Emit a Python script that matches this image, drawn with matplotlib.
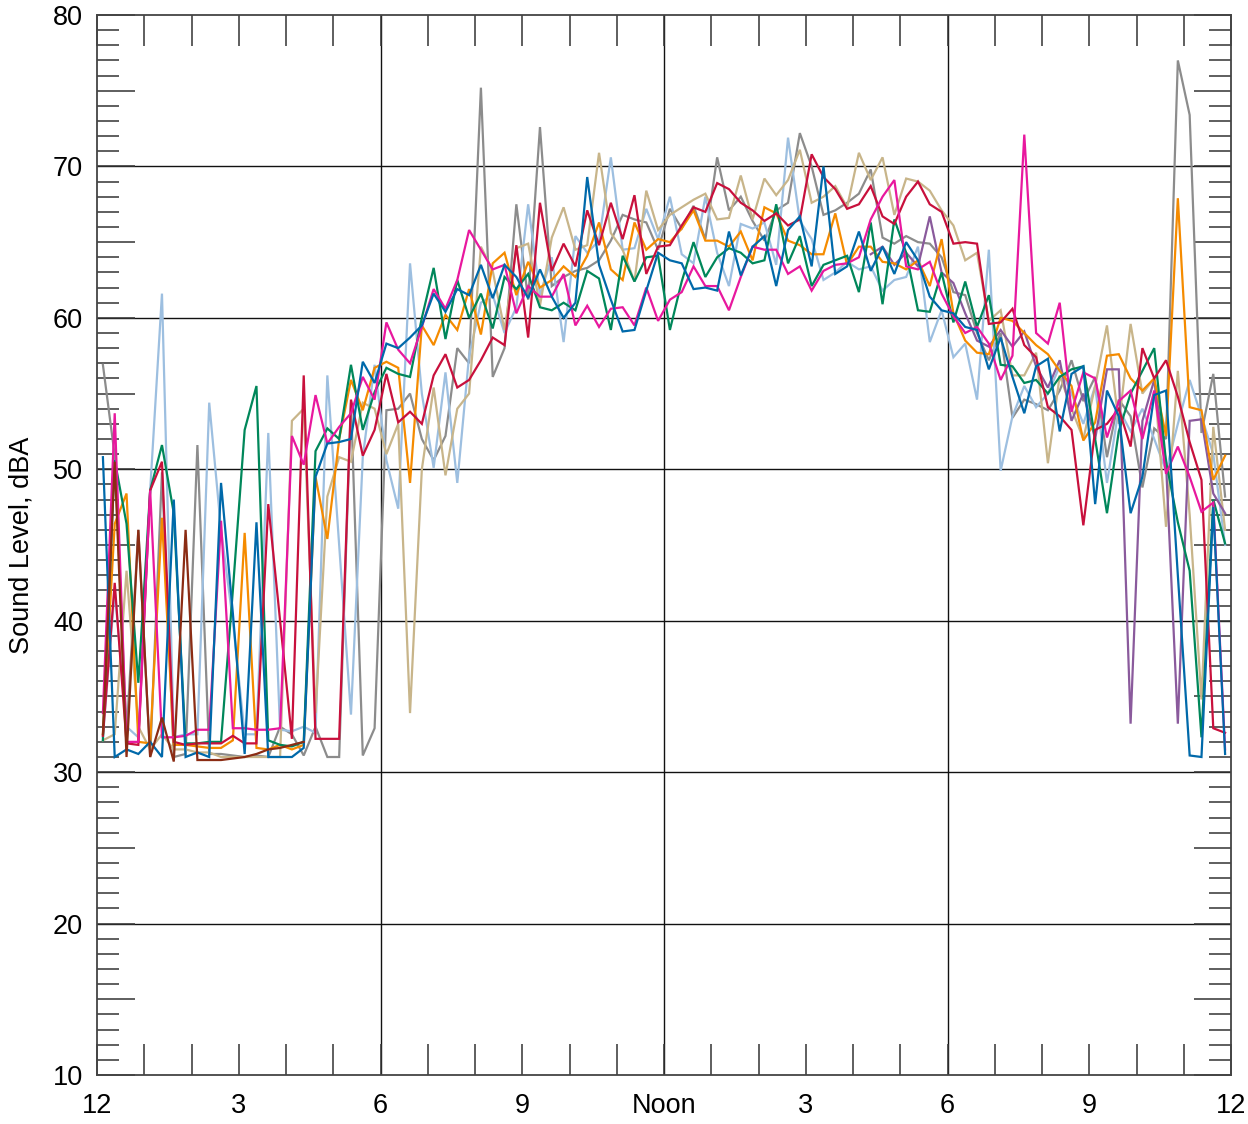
import numpy as np
import matplotlib
matplotlib.use("Agg")
import matplotlib.pyplot as plt
from matplotlib.ticker import FixedLocator, MultipleLocator, FuncFormatter

plt.rcParams['font.family'] = ['Liberation Sans', 'DejaVu Sans']

nan = np.nan
# 15-minute samples, centred at 0:07.5, 0:22.5, ... (96 per day)
hours = np.arange(96) * 0.25 + 0.125

blue = [50.8, 31.0, 31.5, 31.2, 32.0, 31.0, 48.0, 31.0, 31.3, 31.0, 49.1, 40.5,
        31.2, 46.5, 31.0, 31.0, 31.0, 31.6, 49.5, 51.7, 51.8, 52.0, 57.1, 55.7,
        58.3, 58.0, 58.7, 59.5, 61.6, 60.4, 61.9, 61.5, 63.5, 61.3, 63.5, 62.7,
        61.3, 63.2, 61.4, 60.0, 61.0, 69.3, 63.5, 61.2, 59.1, 59.2, 61.8, 64.3,
        63.8, 63.6, 61.9, 62.0, 61.8, 65.7, 62.8, 64.7, 65.4, 62.1, 65.8, 66.7,
        63.4, 70.0, 62.9, 63.4, 65.7, 63.1, 64.7, 62.9, 65.0, 63.8, 61.4, 60.5,
        60.3, 59.4, 59.2, 56.6, 58.7, 56.1, 53.7, 56.8, 57.3, 52.5, 56.3, 56.8,
        47.7, 55.2, 53.5, 47.1, 49.5, 54.9, 55.2, 43.0, 31.1, 31.0, 47.5, 31.2]

crimson = [32.4, 42.5, 31.9, 31.8, 48.6, 50.5, 32.0, 31.8, 31.9, 31.9, 31.9, 32.4,
           31.9, 31.9, 47.7, 40.0, 32.2, 56.2, 32.2, 32.2, 32.2, 54.6, 50.9, 52.6,
           56.3, 53.1, 53.8, 53.0, 56.2, 57.6, 55.4, 55.9, 57.2, 58.7, 58.2, 64.8,
           58.7, 67.6, 63.1, 64.9, 63.4, 67.1, 64.8, 67.6, 65.2, 68.1, 62.9, 64.7,
           64.8, 66.1, 67.3, 67.0, 68.9, 68.5, 67.6, 67.1, 66.4, 66.9, 66.1, 66.5,
           70.8, 69.3, 68.5, 67.2, 67.5, 68.7, 66.7, 66.2, 68.0, 69.0, 67.5, 67.0,
           64.9, 65.0, 64.9, 59.6, 59.7, 60.6, 58.2, 57.4, 54.1, 53.5, 52.6, 46.3,
           52.6, 53.0, 54.0, 51.5, 58.0, 56.0, 57.2, 54.8, 51.8, 49.3, 32.9, 32.6]

green = [32.1, 50.6, 46.4, 35.9, 48.6, 51.6, 47.1, 31.9, 31.9, 32.0, 32.0, 42.0,
         52.6, 55.5, 32.1, 31.8, 31.7, 32.0, 51.2, 52.7, 52.0, 56.9, 52.6, 55.1,
         56.7, 56.3, 56.1, 60.0, 63.3, 58.6, 62.5, 60.0, 61.6, 59.3, 62.7, 61.9,
         62.9, 60.7, 60.5, 61.0, 60.5, 63.1, 62.6, 59.2, 64.1, 62.4, 64.0, 64.1,
         59.2, 62.4, 65.0, 62.7, 64.0, 64.6, 64.3, 63.6, 63.8, 67.5, 63.6, 65.4,
         62.1, 63.5, 63.8, 64.1, 61.7, 66.3, 60.9, 66.5, 64.3, 60.5, 60.4, 63.0,
         59.7, 62.4, 59.4, 61.5, 56.9, 56.8, 55.7, 55.9, 55.0, 56.1, 56.6, 56.8,
         52.0, 47.1, 52.5, 55.0, 56.5, 58.0, 50.5, 46.5, 43.3, 32.3, 48.0, 45.1]

orange = [32.5, 46.4, 48.4, 32.0, 31.9, 46.8, 31.8, 31.8, 31.7, 31.6, 31.6, 32.1,
          45.8, 31.6, 31.5, 31.8, 31.5, 31.8, 49.5, 45.4, 52.0, 55.9, 53.9, 56.7,
          57.1, 56.7, 49.1, 59.5, 58.2, 60.2, 59.2, 61.9, 58.9, 63.6, 64.3, 61.5,
          63.7, 62.0, 62.5, 63.4, 62.7, 64.1, 66.3, 63.2, 62.5, 66.3, 64.5, 65.2,
          65.0, 65.9, 67.1, 65.1, 65.1, 64.7, 65.7, 63.8, 67.3, 66.9, 65.1, 64.8,
          64.2, 64.2, 66.9, 63.5, 64.7, 64.7, 63.7, 63.6, 63.2, 63.8, 62.1, 65.2,
          60.3, 58.5, 57.7, 57.6, 60.0, 59.8, 59.0, 58.2, 57.6, 56.5, 55.5, 51.9,
          53.1, 57.5, 57.6, 56.0, 55.2, 56.0, 52.2, 67.9, 54.1, 53.9, 49.3, 50.9]

gray = [56.9, 50.9, 32.5, 46.0, 31.0, 49.8, 31.0, 31.2, 51.6, 31.2, 31.2, 31.1,
        31.0, 31.1, 31.0, 33.0, 32.5, 31.1, 33.0, 31.0, 31.0, 54.4, 31.1, 32.9,
        53.9, 54.0, 55.0, 52.0, 50.6, 52.2, 58.0, 57.0, 75.2, 56.1, 58.0, 67.5,
        61.2, 72.6, 62.1, 62.7, 63.1, 63.3, 63.8, 65.1, 66.8, 66.5, 66.3, 64.5,
        67.2, 65.9, 67.4, 65.2, 70.6, 67.1, 68.0, 66.4, 65.1, 67.1, 67.6, 72.2,
        70.0, 66.8, 67.1, 67.6, 68.2, 69.8, 65.3, 64.9, 65.4, 65.0, 64.9, 64.0,
        61.7, 61.5, 59.0, 57.2, 59.0, 53.4, 54.6, 54.3, 53.9, 55.2, 57.2, 54.5,
        56.1, 50.8, 54.6, 53.5, 48.8, 52.7, 52.0, 77.0, 73.4, 52.4, 56.3, 48.2]

light_blue = [32.3, 42.0, 33.0, 32.3, 48.6, 61.6, 32.3, 32.5, 32.5, 54.4, 46.0, 40.0,
              32.5, 32.5, 52.4, 32.8, 32.7, 33.0, 32.6, 56.2, 45.0, 33.8, 50.8, 56.9,
              50.6, 47.4, 63.6, 55.0, 50.1, 56.4, 49.1, 57.5, 61.0, 61.5, 59.0, 60.7,
              67.5, 61.5, 64.0, 58.4, 65.4, 64.3, 65.1, 70.6, 64.5, 64.6, 67.2, 65.2,
              68.0, 64.2, 63.6, 68.0, 64.3, 62.1, 66.2, 65.9, 66.3, 63.5, 71.9, 66.4,
              65.2, 62.5, 63.0, 63.7, 63.2, 63.4, 61.8, 62.5, 62.7, 64.7, 58.4, 60.5,
              57.4, 58.3, 54.6, 64.5, 49.9, 53.5, 55.5, 54.1, 55.0, 56.8, 55.0, 53.0,
              55.5, 49.1, 54.0, 52.5, 54.0, 52.0, 49.9, 53.0, 55.9, 53.5, 51.0, 45.0]

tan = [32.1, 32.5, 43.3, 33.0, 31.5, 32.5, 31.5, 31.5, 31.3, 31.3, 31.0, 31.0,
       31.0, 31.0, 31.0, 31.0, 53.2, 54.0, 33.9, 48.2, 50.8, 50.5, 54.4, 54.0,
       51.0, 53.0, 33.9, 50.0, 55.4, 49.6, 54.0, 55.0, 64.7, 63.1, 59.2, 64.6,
       64.9, 60.8, 65.3, 67.3, 64.5, 64.8, 70.9, 65.6, 64.5, 62.4, 68.4, 65.8,
       66.8, 67.3, 67.8, 68.2, 66.5, 66.6, 69.4, 66.5, 69.2, 68.1, 69.1, 71.1,
       67.6, 68.0, 68.7, 67.3, 70.9, 69.1, 70.6, 66.8, 69.2, 69.0, 68.4, 67.1,
       66.1, 63.8, 64.3, 59.8, 60.5, 56.2, 56.2, 57.7, 50.4, 56.2, 54.0, 52.0,
       55.5, 59.5, 53.0, 59.6, 55.0, 56.0, 46.2, 56.5, 47.0, 34.8, 52.8, 46.0]

magenta = [33.9, 53.7, 32.0, 32.0, 48.6, 32.3, 32.3, 32.4, 32.8, 32.8, 46.6, 32.9,
           32.9, 32.8, 32.8, 32.9, 52.2, 50.3, 54.9, 51.7, 52.8, 53.7, 56.1, 54.6,
           59.7, 57.9, 57.0, 59.4, 61.9, 60.6, 62.5, 65.8, 64.5, 63.2, 63.5, 60.3,
           62.1, 61.4, 61.4, 62.9, 59.5, 60.8, 59.4, 60.6, 60.7, 59.5, 62.0, 59.8,
           61.2, 61.7, 63.4, 62.1, 62.1, 60.5, 62.7, 64.7, 64.5, 64.5, 62.9, 63.4,
           61.8, 63.1, 63.5, 63.6, 64.0, 66.5, 68.0, 69.1, 63.4, 63.2, 63.7, 61.6,
           60.1, 59.0, 59.4, 58.3, 55.9, 57.5, 72.1, 59.0, 58.3, 61.0, 53.8, 56.4,
           56.0, 52.1, 54.5, 55.2, 52.0, 55.2, 49.7, 51.5, 49.5, 47.2, 47.8, 31.5]

purple = [nan] * 65 + [64.2, 64.7, 63.5, 64.3, 63.4, 66.7, 63.0,
                       62.3, 60.3, 58.5, 58.1, 59.2, 58.1, 59.1, 56.8, 55.4, 57.2, 53.2, 55.0,
                       52.0, 56.6, 56.6, 33.2, 53.2, 55.9, 50.4, 33.2, 53.2, 53.3, 48.4, 47.1]

brown = [32.5, 50.5, 31.0, 46.0, 31.0, 33.6, 30.7, 46.0, 30.8, 30.8, 30.8, 30.9,
         31.0, 31.2, 31.5, 31.6, 31.8, 32.0] + [nan] * 78

series = [
    (gray, '#8c8c8c'),
    (light_blue, '#9dbfe0'),
    (tan, '#c8b58a'),
    (purple, '#8a5a9c'),
    (orange, '#f58b00'),
    (green, '#00875a'),
    (crimson, '#c8103c'),
    (magenta, '#e8189e'),
    (blue, '#0069aa'),
    (brown, '#8b2c14'),
]

x_tick_labels = ['12', '3', '6', '9', 'Noon', '3', '6', '9', '12']

fig = plt.figure(figsize=(12.48, 11.24), dpi=100)
ax = fig.add_axes([97 / 1248, 49 / 1124, 1134 / 1248, 1060 / 1124])

for vals, col in series:
    ax.plot(hours, np.array(vals, dtype=float), color=col, lw=1.6, zorder=3,
            solid_joinstyle='miter')

ax.set_xlim(0, 24)
ax.set_ylim(10, 80)

# grid
for gx in (6, 12, 18):
    ax.axvline(gx, color='#111111', lw=1.0, zorder=1)
for gy in (20, 30, 40, 50, 60, 70):
    ax.axhline(gy, color='#111111', lw=1.0, zorder=1)

ax.xaxis.set_major_locator(FixedLocator(np.arange(0, 25, 1)))
ax.xaxis.set_major_formatter(FuncFormatter(
    lambda v, p: x_tick_labels[int(round(v)) // 3] if int(round(v)) % 3 == 0 else ''))
ax.yaxis.set_major_locator(MultipleLocator(5))
ax.yaxis.set_minor_locator(MultipleLocator(1))
ax.yaxis.set_major_formatter(FuncFormatter(
    lambda v, p: f'{int(round(v))}' if int(round(v)) % 10 == 0 else ''))

tick_col = '#333333'
ax.tick_params(axis='x', which='major', direction='in', length=22, width=1.1,
               top=True, bottom=True, color=tick_col, labelsize=19.5, pad=13)
ax.tick_params(axis='y', which='major', direction='in', length=27, width=1.1,
               left=True, right=True, color=tick_col, labelsize=19.5, pad=10)
ax.tick_params(axis='y', which='minor', direction='in', length=16, width=1.1,
               left=True, right=True, color=tick_col)

for s in ax.spines.values():
    s.set_color('#444444')
    s.set_linewidth(1.3)

ax.set_ylabel('Sound Level, dBA', fontsize=19.5, labelpad=13)

fig.savefig('out.png', dpi=100)
